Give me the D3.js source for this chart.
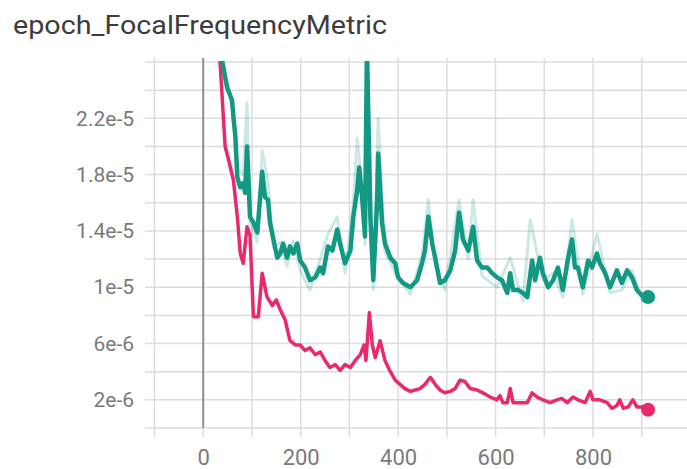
<!DOCTYPE html>
<html><head><meta charset="utf-8">
<script src="https://cdn.jsdelivr.net/npm/d3@7"></script>
<style>
html,body{margin:0;padding:0;background:#fff;}
svg{display:block;font-family:Roboto,"Noto Sans",sans-serif;}
</style></head>
<body><svg id="c" width="687" height="469"></svg>
<script>
const title = "epoch_FocalFrequencyMetric";
const xTickValues = [-100,0,100,200,300,400,500,600,700,800,900,1000];
const xTickLabels = [0,200,400,600,800];
const yTickValues = [2e-6,4e-6,6e-6,8e-6,1e-5,1.2e-5,1.4e-5,1.6e-5,1.8e-5,2e-5,2.2e-5,2.4e-5,2.6e-5];
const yTickLabels = ["2e-6","6e-6","1e-5","1.4e-5","1.8e-5","2.2e-5"];
const yLabelValues = [2e-6,6e-6,1e-5,1.4e-5,1.8e-5,2.2e-5];

// smoothed series: [epoch, value (x1e-6)]
const greenSmooth = [[33,29],[39,26.0],[49,24.2],[59,23.3],[62,22.1],[66,20.7],[70,17.8],[76,17.1],[82,17.4],[86,16.7],[90,20.0],[96,15.0],[103,14.6],[111,13.9],[121,18.2],[127,16.4],[133,16.2],[137,14.6],[144,13.4],[152,12.1],[158,12.4],[164,13.1],[172,12.1],[178,12.9],[185,12.4],[193,13.1],[199,11.9],[209,11.4],[219,10.5],[230,10.7],[240,11.4],[246,11.0],[256,12.9],[265,12.6],[275,14.1],[281,13.1],[291,11.7],[302,12.6],[308,15.0],[316,16.9],[320,18.5],[326,16.4],[332,13.6],[336,27.0],[343,15.0],[349,10.5],[357,16.2],[359,19.5],[367,14.6],[373,13.1],[384,12.1],[394,11.7],[400,10.7],[410,10.3],[425,10.0],[439,10.5],[449,11.7],[455,12.6],[462,15.0],[470,13.1],[476,12.1],[486,10.3],[496,10.5],[507,11.2],[517,12.6],[525,15.3],[533,13.4],[544,12.6],[554,14.3],[562,11.9],[572,11.4],[583,11.4],[593,11.0],[603,10.7],[613,10.5],[624,9.6],[630,11.0],[636,9.8],[646,9.8],[656,9.6],[665,9.3],[675,11.9],[681,10.5],[691,12.1],[697,11.0],[708,10.0],[718,10.5],[728,11.4],[738,9.8],[749,12.1],[757,13.4],[763,11.4],[769,11.4],[779,10.0],[790,11.9],[798,11.4],[808,12.4],[814,11.7],[825,11.0],[835,10.0],[849,11.2],[859,10.3],[870,11.2],[880,10.7],[890,9.8],[901,9.4],[913,9.3]];
const greenRaw = [[33,30],[45,25.0],[59,23.0],[70,18.5],[82,18.0],[90,23.1],[96,14.5],[111,13.2],[121,19.7],[133,17.5],[144,12.8],[158,13.2],[172,11.5],[185,13.3],[199,11.2],[219,9.8],[240,12.0],[256,13.8],[275,15.0],[291,11.0],[308,16.0],[316,20.6],[326,17.0],[332,13.0],[336,27.5],[349,9.8],[359,22.0],[373,12.5],[394,11.0],[425,9.5],[449,12.3],[462,16.2],[476,11.5],[496,9.8],[525,16.2],[544,12.0],[554,16.2],[572,10.8],[603,10.0],[630,12.1],[656,9.0],[671,14.8],[697,10.5],[718,11.0],[738,9.3],[757,14.8],[779,9.5],[808,13.8],[835,9.6],[859,9.8],[880,11.2],[901,9.0],[913,9.1]];
const pinkSmooth = [[31,28],[45,20.0],[51,19.2],[62,17.6],[70,15.0],[76,12.4],[82,11.7],[90,14.3],[96,13.7],[103,7.9],[113,7.9],[121,11.0],[131,9.3],[142,8.7],[150,9.1],[158,8.4],[168,7.7],[178,6.2],[189,5.9],[199,5.9],[209,5.5],[219,5.7],[230,5.2],[240,5.4],[250,4.8],[260,4.3],[271,4.5],[281,4.1],[291,4.5],[302,4.3],[312,4.8],[322,5.2],[330,5.9],[334,4.8],[341,8.2],[347,5.9],[353,5.0],[363,6.2],[373,4.8],[384,4.0],[394,3.4],[404,3.1],[414,2.8],[425,2.6],[435,2.7],[445,2.8],[455,3.1],[466,3.6],[476,3.1],[486,2.7],[496,2.5],[507,2.6],[517,2.8],[527,3.4],[537,3.3],[548,2.8],[562,2.7],[574,2.5],[589,2.2],[603,2.0],[609,2.3],[615,1.8],[624,1.8],[630,2.8],[636,1.8],[650,1.8],[665,1.8],[675,2.5],[685,2.2],[697,2.0],[712,1.8],[726,2.0],[736,2.1],[747,1.8],[759,2.2],[769,2.0],[784,1.8],[794,2.6],[800,2.0],[814,2.0],[829,1.8],[839,1.4],[849,1.6],[855,2.0],[862,1.4],[872,1.5],[882,2.0],[890,1.5],[901,1.5],[913,1.3]];

const svg = d3.select("#c");
const x = d3.scaleLinear().domain([-100, 900]).range([154.5, 641.75]);
const y = d3.scaleLinear().domain([0, 2.6e-5]).range([428, 62]);
const plotLeft = 145, plotRight = 687, plotTop = 58, plotBottom = 428;

svg.append("text").attr("x", 13).attr("y", 34).text(title)
  .attr("font-size", 26).attr("fill", "#3c3c3c")
  .attr("textLength", 374).attr("lengthAdjust", "spacingAndGlyphs");

// gridlines
const grid = svg.append("g");
grid.selectAll("line.h").data([0].concat(yTickValues)).join("line")
  .attr("x1", plotLeft).attr("x2", plotRight)
  .attr("y1", d => y(d)).attr("y2", d => y(d))
  .attr("stroke", "#dcdcdc").attr("stroke-width", 1.5);
grid.selectAll("line.v").data(xTickValues).join("line")
  .attr("x1", d => x(d)).attr("x2", d => x(d))
  .attr("y1", plotTop).attr("y2", plotBottom + 9)
  .attr("stroke", "#dcdcdc").attr("stroke-width", 1.5);
grid.append("line").attr("x1", x(0)).attr("x2", x(0))
  .attr("y1", plotTop).attr("y2", plotBottom)
  .attr("stroke", "#8f8f8f").attr("stroke-width", 2);

// axes (labels)
const xAxis = d3.axisBottom(x).tickValues(xTickLabels).tickSize(0).tickPadding(0).tickFormat(d3.format("d"));
const gx = svg.append("g").attr("transform", `translate(0,${plotBottom + 21})`).call(xAxis);
gx.select(".domain").remove();
gx.selectAll("text").attr("font-size", 22).attr("fill", "#7a7a7a").attr("font-family", "Roboto").attr("dy", "0.71em");

const yAxis = d3.axisLeft(y).tickValues(yLabelValues).tickSize(0).tickPadding(0)
  .tickFormat((d, i) => yTickLabels[i]);
const gy = svg.append("g").attr("transform", `translate(134,0)`).call(yAxis);
gy.select(".domain").remove();
gy.selectAll("text").attr("font-size", 21).attr("fill", "#7a7a7a").attr("font-family", "Roboto");

// clip
svg.append("clipPath").attr("id", "clip").append("rect")
  .attr("x", plotLeft).attr("y", 61).attr("width", plotRight - plotLeft).attr("height", plotBottom - 61 + 20);

const line = d3.line().x(d => x(d[0])).y(d => y(d[1] * 1e-6));
const g = svg.append("g").attr("clip-path", "url(#clip)");
g.append("path").attr("d", line(greenRaw)).attr("fill", "none")
  .attr("stroke", "#129883").attr("stroke-opacity", 0.22).attr("stroke-width", 3).attr("stroke-linejoin", "round");
g.append("path").attr("d", line(pinkSmooth)).attr("fill", "none")
  .attr("stroke", "#e8296d").attr("stroke-width", 3.5).attr("stroke-linejoin", "round").attr("stroke-linecap", "round");
g.append("path").attr("d", line(greenSmooth)).attr("fill", "none")
  .attr("stroke", "#129883").attr("stroke-width", 4.5).attr("stroke-linejoin", "round").attr("stroke-linecap", "round");

const gLast = greenSmooth[greenSmooth.length - 1];
const pLast = pinkSmooth[pinkSmooth.length - 1];
svg.append("circle").attr("cx", x(gLast[0])).attr("cy", y(gLast[1] * 1e-6)).attr("r", 7).attr("fill", "#129883");
svg.append("circle").attr("cx", x(pLast[0])).attr("cy", y(pLast[1] * 1e-6)).attr("r", 7).attr("fill", "#e8296d");
</script></body></html>
